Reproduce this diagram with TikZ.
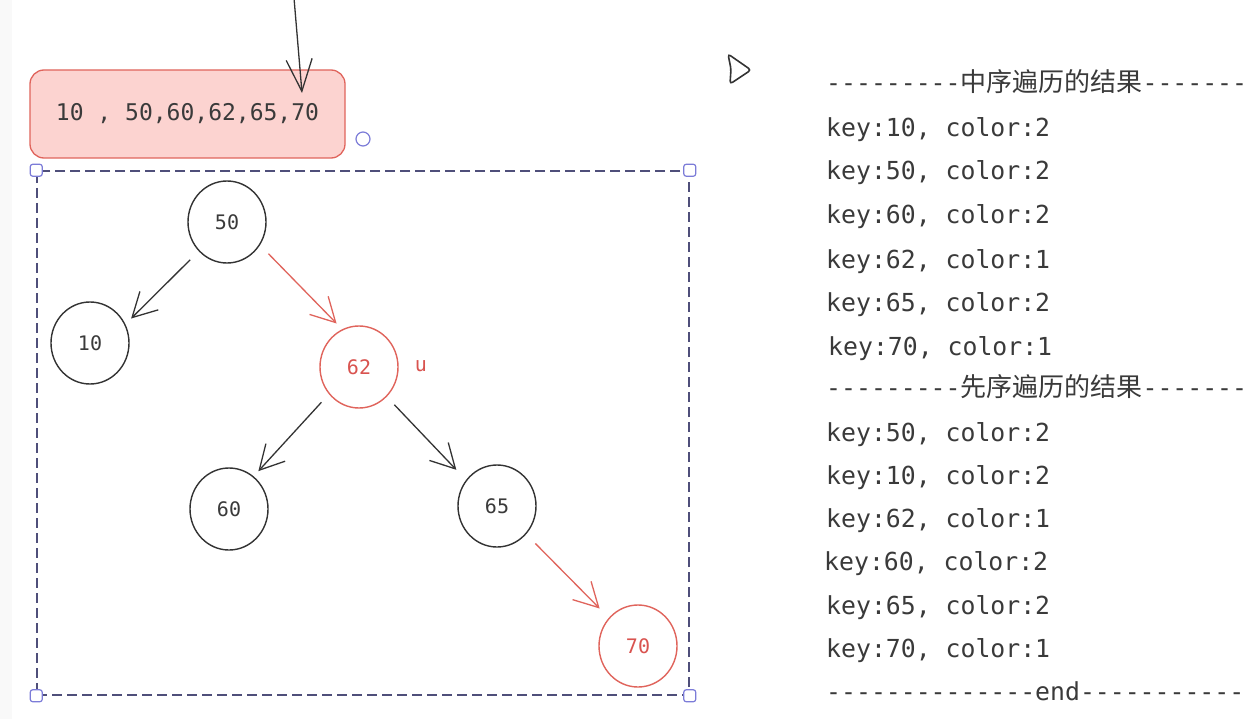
\documentclass[tikz,border=0pt]{standalone}
\usepackage{fontspec}
\setmonofont{DejaVu Sans Mono}
\newfontfamily\cjk{Noto Sans CJK SC}
\usetikzlibrary{arrows.meta,shapes.geometric}
\definecolor{ink}{HTML}{333333}
\definecolor{redline}{HTML}{E0645C}
\definecolor{redfill}{HTML}{FCD3D0}
\definecolor{redtext}{HTML}{D9534F}
\definecolor{sel}{HTML}{4F4F7A}
\definecolor{handle}{HTML}{7C7CD8}
\definecolor{txt}{HTML}{3A3A3A}
\begin{document}
\begin{tikzpicture}[x=1pt,y=-1pt,
  treenode/.style={ellipse, draw=ink, line width=1.4pt, minimum width=78pt, minimum height=82pt, inner sep=0pt, font=\ttfamily\fontsize{20}{22}\selectfont, text=txt},
  rednode/.style={treenode, draw=redline, text=redtext},
  edge/.style={draw=ink, line width=1.3pt, -{Straight Barb[length=24pt,width=26pt,line width=1.3pt]}, shorten <=12pt, shorten >=8pt},
  rededge/.style={edge, draw=redline},
  outline/.style={anchor=west, font=\ttfamily\fontsize{24.8}{28}\selectfont, text=txt, inner sep=0pt, text height=17pt, text depth=5pt},
  handlebox/.style={draw=handle, fill=white, line width=1.2pt, rounded corners=2.5pt, minimum size=12pt, inner sep=0pt}
]
\clip (0,0) rectangle (1249,719);
\fill[white] (0,0) rectangle (1249,719);
\fill[gray!5] (0,0) rectangle (12,719);

% top array box
\node[draw=redline, fill=redfill, rounded corners=14pt, line width=1.3pt, minimum width=315pt, minimum height=88pt, inner sep=0pt, font=\ttfamily\fontsize{23}{26}\selectfont, text=txt] (arr) at (187.5,114) {10 , 50,60,62,65,70};
\coordinate (topstart) at (294,-2);
\coordinate (toptip) at (302,93);
\draw[draw=ink, line width=1.3pt, -{Straight Barb[length=32pt,width=26pt,line width=1.3pt]}] (topstart) -- (toptip);
\node[circle, draw=handle, line width=1.2pt, minimum size=14pt, inner sep=0pt] (rot) at (363,139) {};

% selection rectangle
\node[draw=sel, dash pattern=on 10pt off 5pt, line width=1.5pt, minimum width=652pt, minimum height=524pt, inner sep=0pt] (selbox) at (363,433) {};
\node[handlebox] (h1) at (selbox.north west) {};
\node[handlebox] (h2) at (selbox.north east) {};
\node[handlebox] (h3) at (selbox.south west) {};
\node[handlebox] (h4) at (selbox.south east) {};

% tree
\node[treenode] (n50) at (227,222) {50};
\node[treenode] (n10) at (90,343) {10};
\node[rednode] (n62) at (359,367) {62};
\node[treenode] (n60) at (229,509) {60};
\node[treenode] (n65) at (497,506) {65};
\node[rednode] (n70) at (638,646) {70};
\node[font=\ttfamily\fontsize{20}{22}\selectfont, text=redtext, inner sep=0pt] (lblu) at (421,366) {u};

\draw[edge] (n50.226) -- (n10.28);
\draw[rededge] (n50.325) -- (n62.114);
\draw[edge, shorten >=7pt, shorten <=11pt] (n62.222) -- (n60.53);
\draw[edge, shorten >=14pt, shorten <=11pt] (n62.313) -- (n65.140);
\draw[rededge, shorten >=13pt, shorten <=13pt] (n65.316) -- (n70.136);

% cursor
\draw[ink, line width=1.6pt, fill=white, rounded corners=3pt] (728,54) -- (751,70) -- (730,84) -- (731,69) -- cycle;

% output text
\node[outline] (t1) at (826,86) {---------{\cjk\fontsize{26}{28}\selectfont 中序遍历的结果}-------};
\node[outline] (t2) at (826,131) {key:10, color:2};
\node[outline] (t3) at (826,174) {key:50, color:2};
\node[outline] (t4) at (826,218) {key:60, color:2};
\node[outline] (t5) at (826,262) {key:62, color:1};
\node[outline] (t6) at (826,305) {key:65, color:2};
\node[outline] (t7) at (828,349) {key:70, color:1};
\node[outline] (t8) at (826,390) {---------{\cjk\fontsize{26}{28}\selectfont 先序遍历的结果}-------};
\node[outline] (t9) at (826,435) {key:50, color:2};
\node[outline] (t10) at (826,478) {key:10, color:2};
\node[outline] (t11) at (826,521) {key:62, color:1};
\node[outline] (t12) at (824,564) {key:60, color:2};
\node[outline] (t13) at (826,608) {key:65, color:2};
\node[outline] (t14) at (826,651) {key:70, color:1};
\node[outline] (t15) at (826,694) {--------------end-----------};
\end{tikzpicture}
\end{document}
